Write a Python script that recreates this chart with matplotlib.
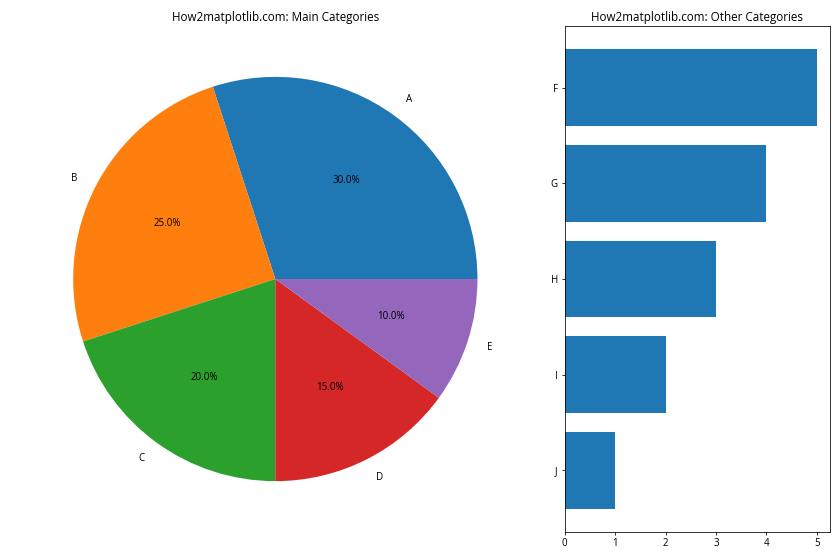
import matplotlib.pyplot as plt

plt.rcParams['font.family'] = ['Open Sans', 'DejaVu Sans']

main_labels = ['A', 'B', 'C', 'D', 'E']
main_sizes = [30, 25, 20, 15, 10]

other_labels = ['F', 'G', 'H', 'I', 'J']
other_sizes = [5, 4, 3, 2, 1]

fig, (ax1, ax2) = plt.subplots(1, 2, figsize=(12, 8), dpi=70,
                               gridspec_kw={'width_ratios': [2, 1]})

# Main pie
ax1.pie(main_sizes, labels=main_labels, autopct='%1.1f%%')
ax1.set_title('How2matplotlib.com: Main Categories')

# Other categories as horizontal bars
ax2.barh(other_labels, other_sizes, color='#1f77b4')
ax2.invert_yaxis()
ax2.set_title('How2matplotlib.com: Other Categories')

plt.tight_layout()
plt.savefig('out.png', dpi=70)
